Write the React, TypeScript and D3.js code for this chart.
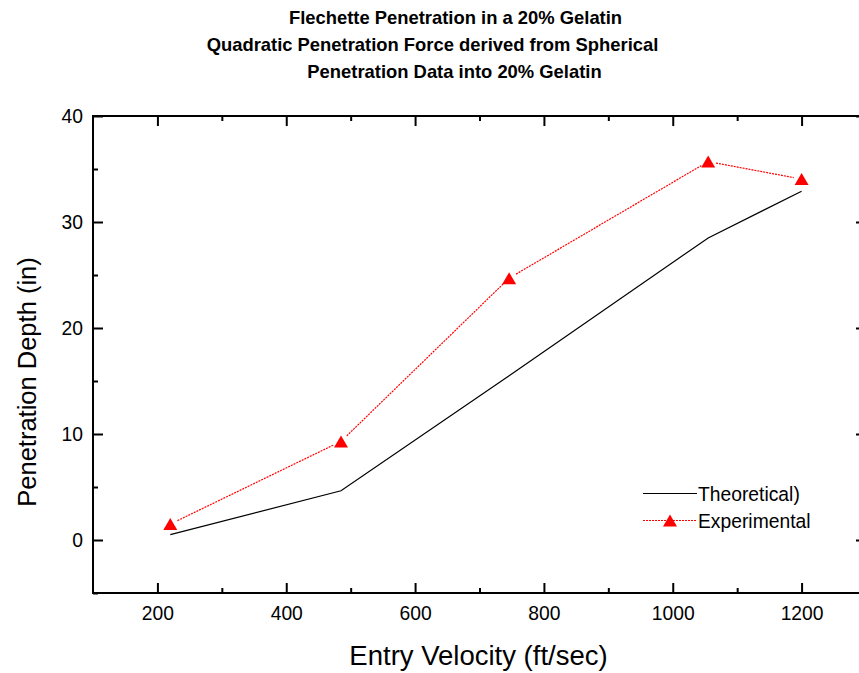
import React, { useRef, useEffect } from "react";
import * as d3 from "d3";

const titleLines = [
  "Flechette Penetration in a 20% Gelatin",
  "Quadratic Penetration Force derived from Spherical",
  "Penetration Data into 20% Gelatin",
];

const velocity = [220, 485, 746, 1055, 1200];
const theoretical = [0.5, 4.65, 15.5, 28.5, 32.9];
const experimental = [1.5, 9.3, 24.7, 35.7, 34.05];

const xMajorTicks = [200, 400, 600, 800, 1000, 1200];
const xMinorTicks = [300, 500, 700, 900, 1100];
const yMajorTicks = [0, 10, 20, 30, 40];
const yMinorTicks = [-5, 5, 15, 25, 35];

const seriesNames = ["Theoretical)", "Experimental"];

const W = 859;
const H = 673;
const FONT = "'Liberation Sans', Arial, sans-serif";

const App = () => {
  const svgRef = useRef<SVGSVGElement>(null);

  useEffect(() => {
    const svg = d3.select(svgRef.current);
    svg.selectAll("*").remove();

    const left = 93, right = 866, top = 116, bottom = 593;

    const x = d3.scaleLinear().domain([100, 1300]).range([left, right]);
    const y = d3.scaleLinear().domain([-5, 40]).range([bottom, top]);

    // title
    const titleX = [455.5, 432.5, 454.5];
    const titleY = [24, 50.5, 77.5];
    titleLines.forEach((t, i) => {
      svg.append("text")
        .attr("x", titleX[i])
        .attr("y", titleY[i])
        .attr("text-anchor", "middle")
        .attr("font-family", FONT)
        .attr("font-weight", "bold")
        .attr("font-size", 18.4)
        .text(t);
    });

    const styleAxis = (g, showText) => {
      g.select(".domain").remove();
      g.selectAll(".tick line").attr("stroke", "#000").attr("stroke-width", 2);
      g.selectAll(".tick text")
        .attr("font-family", FONT)
        .attr("font-size", 19.3)
        .attr("fill", "#000")
        .style("display", showText ? null : "none");
    };

    // bottom
    svg.append("g").attr("transform", `translate(0,${bottom})`)
      .call(d3.axisBottom(x).tickValues(xMajorTicks).tickSize(-10).tickPadding(13).tickFormat(d3.format("d")))
      .call(g => styleAxis(g, true));
    svg.append("g").attr("transform", `translate(0,${bottom})`)
      .call(d3.axisBottom(x).tickValues(xMinorTicks).tickSize(-5).tickFormat(() => ""))
      .call(g => styleAxis(g, false));
    // top
    svg.append("g").attr("transform", `translate(0,${top})`)
      .call(d3.axisTop(x).tickValues(xMajorTicks).tickSize(-10).tickFormat(() => ""))
      .call(g => styleAxis(g, false));
    svg.append("g").attr("transform", `translate(0,${top})`)
      .call(d3.axisTop(x).tickValues(xMinorTicks).tickSize(-5).tickFormat(() => ""))
      .call(g => styleAxis(g, false));
    // left
    svg.append("g").attr("transform", `translate(${left},0)`)
      .call(d3.axisLeft(y).tickValues(yMajorTicks).tickSize(-10).tickPadding(10).tickFormat(d3.format("d")))
      .call(g => styleAxis(g, true));
    svg.append("g").attr("transform", `translate(${left},0)`)
      .call(d3.axisLeft(y).tickValues(yMinorTicks).tickSize(-5).tickFormat(() => ""))
      .call(g => styleAxis(g, false));
    // right
    svg.append("g").attr("transform", `translate(${right},0)`)
      .call(d3.axisRight(y).tickValues(yMajorTicks).tickSize(-10).tickFormat(() => ""))
      .call(g => styleAxis(g, false));
    svg.append("g").attr("transform", `translate(${right},0)`)
      .call(d3.axisRight(y).tickValues(yMinorTicks).tickSize(-5).tickFormat(() => ""))
      .call(g => styleAxis(g, false));

    // frame
    svg.append("rect")
      .attr("x", left).attr("y", top)
      .attr("width", right - left).attr("height", bottom - top)
      .attr("fill", "none").attr("stroke", "#000").attr("stroke-width", 2);

    // axis titles
    svg.append("text")
      .attr("x", 478.5).attr("y", 665)
      .attr("text-anchor", "middle")
      .attr("font-family", FONT).attr("font-size", 27.5)
      .text("Entry Velocity (ft/sec)");
    svg.append("text")
      .attr("transform", "translate(36,382) rotate(-90)")
      .attr("text-anchor", "middle")
      .attr("font-family", FONT).attr("font-size", 25.5)
      .text("Penetration Depth (in)");

    // theoretical line
    const line = d3.line<number>().x((d, i) => x(velocity[i])).y(d => y(d));
    svg.append("path")
      .attr("d", line(theoretical))
      .attr("fill", "none").attr("stroke", "#000").attr("stroke-width", 1.2);

    // experimental: dotted segments with gaps around markers
    const gap = 8;
    const pts = experimental.map((v, i) => [x(velocity[i]), y(v)]);
    for (let i = 0; i < pts.length - 1; i++) {
      const [x0, y0] = pts[i];
      const [x1, y1] = pts[i + 1];
      const len = Math.hypot(x1 - x0, y1 - y0);
      const ux = (x1 - x0) / len, uy = (y1 - y0) / len;
      svg.append("line")
        .attr("x1", x0 + ux * gap).attr("y1", y0 + uy * gap)
        .attr("x2", x1 - ux * gap).attr("y2", y1 - uy * gap)
        .attr("stroke", "#ff0000").attr("stroke-width", 1.2)
        .attr("stroke-dasharray", "2,1");
    }

    const tri = (cx, cy) => `M${cx - 7},${cy + 6}L${cx + 7},${cy + 6}L${cx},${cy - 6}Z`;
    svg.selectAll(".marker")
      .data(pts)
      .enter()
      .append("path")
      .attr("d", d => tri(d[0], d[1]))
      .attr("fill", "#ff0000");

    // legend
    const legend = svg.append("g");
    legend.append("line")
      .attr("x1", 643).attr("x2", 697).attr("y1", 493.5).attr("y2", 493.5)
      .attr("stroke", "#000").attr("stroke-width", 1.2);
    legend.append("text")
      .attr("x", 698).attr("y", 500.5)
      .attr("font-family", FONT).attr("font-size", 19.3)
      .text(seriesNames[0]);
    legend.append("line")
      .attr("x1", 643).attr("x2", 697).attr("y1", 520.5).attr("y2", 520.5)
      .attr("stroke", "#ff0000").attr("stroke-width", 1.2)
      .attr("stroke-dasharray", "2,1");
    legend.append("path").attr("d", tri(670, 520.5)).attr("fill", "#ff0000");
    legend.append("text")
      .attr("x", 698).attr("y", 528)
      .attr("font-family", FONT).attr("font-size", 19.3)
      .text(seriesNames[1]);
  }, []);

  return (
    <svg
      ref={svgRef}
      width={W}
      height={H}
      style={{ position: "absolute", left: 0, top: 0, background: "#fff", display: "block" }}
    />
  );
};

export default App;
